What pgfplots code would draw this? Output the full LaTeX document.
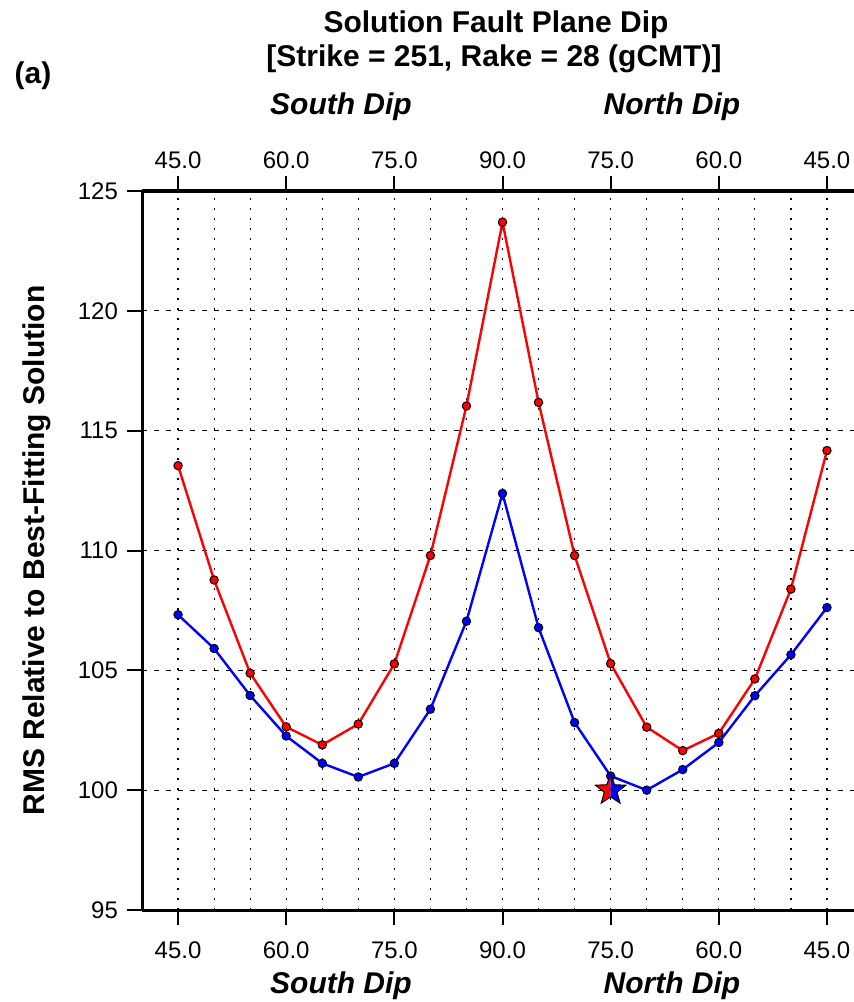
\documentclass[border=0pt]{standalone}
\usepackage{fontspec}
\setmainfont{Liberation Sans}
\usepackage{pgfplots}
\pgfplotsset{compat=1.18}

\newcommand\starpath{%
  \pgfpathmoveto{\pgfpointpolar{90}{\pgfplotmarksize}}%
  \pgfpathlineto{\pgfpointpolar{126}{0.42\pgfplotmarksize}}%
  \pgfpathlineto{\pgfpointpolar{162}{\pgfplotmarksize}}%
  \pgfpathlineto{\pgfpointpolar{198}{0.42\pgfplotmarksize}}%
  \pgfpathlineto{\pgfpointpolar{234}{\pgfplotmarksize}}%
  \pgfpathlineto{\pgfpointpolar{270}{0.42\pgfplotmarksize}}%
  \pgfpathlineto{\pgfpointpolar{306}{\pgfplotmarksize}}%
  \pgfpathlineto{\pgfpointpolar{342}{0.42\pgfplotmarksize}}%
  \pgfpathlineto{\pgfpointpolar{18}{\pgfplotmarksize}}%
  \pgfpathlineto{\pgfpointpolar{54}{0.42\pgfplotmarksize}}%
  \pgfpathclose}

\pgfdeclareplotmark{halfstar}{%
  \begin{pgfscope}
    \pgfpathrectangle{\pgfpoint{-2\pgfplotmarksize}{-2\pgfplotmarksize}}{\pgfpoint{2\pgfplotmarksize}{4\pgfplotmarksize}}
    \pgfusepath{clip}
    \pgfsetfillcolor{red}
    \starpath\pgfusepathqfill
  \end{pgfscope}
  \begin{pgfscope}
    \pgfpathrectangle{\pgfpoint{0pt}{-2\pgfplotmarksize}}{\pgfpoint{2\pgfplotmarksize}{4\pgfplotmarksize}}
    \pgfusepath{clip}
    \pgfsetfillcolor{blue}
    \starpath\pgfusepathqfill
  \end{pgfscope}
  \starpath\pgfusepathqstroke
}

\newcommand\bfnt{\fontsize{15}{18}\selectfont\bfseries}
\newcommand\tfnt{\fontsize{12}{14}\selectfont}

\begin{document}
\begin{tikzpicture}
\begin{axis}[
  at={(0pt,0pt)}, anchor=south west,
  scale only axis, width=356pt, height=359.5pt,
  xmin=-1, xmax=18.75, ymin=95, ymax=125,
  axis x line=box, axis y line=left,
  axis line style={-, line width=1.5pt},
  xtick={0,3,...,18},
  xticklabels={45.0,60.0,75.0,90.0,75.0,60.0,45.0},
  minor xtick={0,1,...,18},
  ytick={95,100,...,125},
  tick align=outside,
  major tick length=7.5pt, minor tick length=0pt,
  every tick/.style={line width=1pt, black},
  xminorgrids, ymajorgrids,
  minor grid style={black, line width=0.6pt, dash pattern=on 1.2pt off 3.8pt},
  major grid style={black, line width=0.6pt, dash pattern=on 2.5pt off 3.5pt},
  ticklabel style={font=\tfnt},
  /pgf/number format/assume math mode=true,
  xticklabel style={anchor=north, yshift=-5pt},
  yticklabel style={xshift=-1pt},
  clip=false,
]
\addplot[red, line width=1.2pt, mark=*, mark size=2.1pt,
  mark options={fill=red, draw=black, line width=0.5pt, solid}] coordinates {
  (0,113.54) (1,108.77) (2,104.88) (3,102.64) (4,101.89) (5,102.76) (6,105.27)
  (7,109.79) (8,116.03) (9,123.70) (10,116.18) (11,109.79) (12,105.28)
  (13,102.63) (14,101.65) (15,102.37) (16,104.64) (17,108.39) (18,114.17)};
\addplot[blue, line width=1.2pt, mark=*, mark size=2.1pt,
  mark options={fill=blue, draw=black, line width=0.5pt, solid}] coordinates {
  (0,107.32) (1,105.91) (2,103.95) (3,102.26) (4,101.12) (5,100.55) (6,101.12)
  (7,103.38) (8,107.05) (9,112.38) (10,106.78) (11,102.82) (12,100.59)
  (13,100.00) (14,100.86) (15,101.99) (16,103.94) (17,105.65) (18,107.62)};
\addplot[only marks, mark=halfstar, mark size=8pt,
  mark options={draw=black, line width=0.5pt}] coordinates {(12,100)};
\end{axis}
\begin{axis}[
  at={(0pt,0pt)}, anchor=south west,
  scale only axis, width=356pt, height=359.5pt,
  xmin=-1, xmax=18.75, ymin=95, ymax=125,
  axis x line*=top, axis y line=none,
  axis line style={-, line width=1.5pt},
  xtick={0,3,...,18},
  xticklabels={45.0,60.0,75.0,90.0,75.0,60.0,45.0},
  ytick=\empty,
  tick align=outside,
  major tick length=7.5pt,
  every tick/.style={line width=1pt, black},
  ticklabel style={font=\tfnt},
  xticklabel style={anchor=south},
]
\end{axis}
\node[font=\bfnt, anchor=base] at (177pt,438.5pt) {Solution Fault Plane Dip};
\node[font=\bfnt, anchor=base] at (176pt,421.5pt) {[Strike = 251, Rake = 28 (gCMT)]};
\node[font=\bfnt, anchor=base] at (-54.5pt,413pt) {(a)};
\node[font=\bfnt\itshape, anchor=base] at (99.5pt,397.5pt) {South Dip};
\node[font=\bfnt\itshape, anchor=base] at (265pt,397.5pt) {North Dip};
\node[font=\bfnt\itshape, anchor=base] at (99.5pt,-41.5pt) {South Dip};
\node[font=\bfnt\itshape, anchor=base] at (265pt,-41.5pt) {North Dip};
\node[font=\bfnt, anchor=base, rotate=90] at (-48.5pt,179.75pt) {RMS Relative to Best-Fitting Solution};
\pgfresetboundingbox
\path[use as bounding box] (-71pt,-46pt) rectangle (356pt,455pt);
\end{tikzpicture}
\end{document}
